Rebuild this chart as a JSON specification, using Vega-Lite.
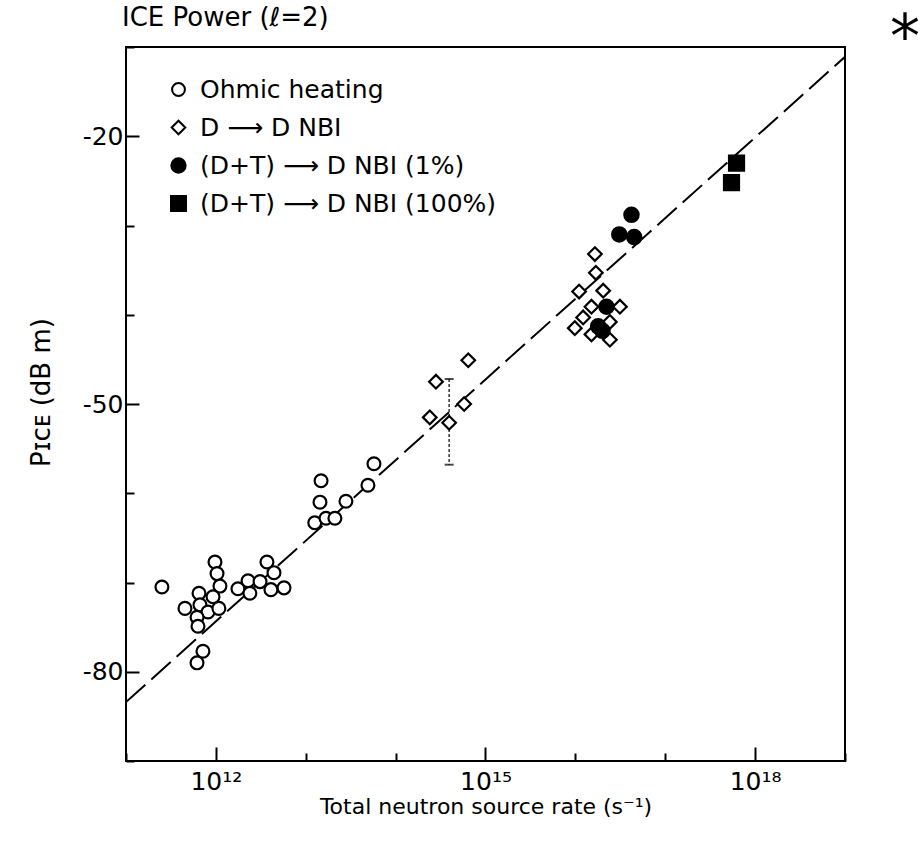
{
  "$schema": "https://vega.github.io/schema/vega-lite/v6.json",
  "autosize": {"type": "none"},
  "width": 719,
  "height": 714,
  "padding": {"left": 126, "top": 47, "right": 78, "bottom": 84},
  "background": "white",
  "title": {"text": "ICE Power (ℓ=2)", "anchor": "start", "frame": "group", "font": "DejaVu Sans", "fontSize": 26, "fontWeight": "normal", "color": "black", "offset": -22, "dx": -4},
  "datasets": {
    "points": [
      {"cat": "Ohmic heating", "rate": 2.51e11, "p": -70.5},
      {"cat": "Ohmic heating", "rate": 9.77e11, "p": -67.7},
      {"cat": "Ohmic heating", "rate": 1.03e12, "p": -69.0},
      {"cat": "Ohmic heating", "rate": 1.11e12, "p": -70.4},
      {"cat": "Ohmic heating", "rate": 6.49e11, "p": -71.2},
      {"cat": "Ohmic heating", "rate": 9.29e11, "p": -71.6},
      {"cat": "Ohmic heating", "rate": 4.53e11, "p": -72.9},
      {"cat": "Ohmic heating", "rate": 6.65e11, "p": -72.5},
      {"cat": "Ohmic heating", "rate": 8.17e11, "p": -73.3},
      {"cat": "Ohmic heating", "rate": 1.08e12, "p": -72.9},
      {"cat": "Ohmic heating", "rate": 6.17e11, "p": -73.9},
      {"cat": "Ohmic heating", "rate": 6.32e11, "p": -74.9},
      {"cat": "Ohmic heating", "rate": 7.18e11, "p": -77.7},
      {"cat": "Ohmic heating", "rate": 6.17e11, "p": -79.0},
      {"cat": "Ohmic heating", "rate": 1.76e12, "p": -70.7},
      {"cat": "Ohmic heating", "rate": 2.28e12, "p": -69.8},
      {"cat": "Ohmic heating", "rate": 2.39e12, "p": -71.2},
      {"cat": "Ohmic heating", "rate": 3.10e12, "p": -69.9},
      {"cat": "Ohmic heating", "rate": 3.70e12, "p": -67.7},
      {"cat": "Ohmic heating", "rate": 4.43e12, "p": -68.9},
      {"cat": "Ohmic heating", "rate": 4.10e12, "p": -70.8},
      {"cat": "Ohmic heating", "rate": 5.73e12, "p": -70.6},
      {"cat": "Ohmic heating", "rate": 1.48e13, "p": -58.6},
      {"cat": "Ohmic heating", "rate": 1.44e13, "p": -61.0},
      {"cat": "Ohmic heating", "rate": 1.26e13, "p": -63.3},
      {"cat": "Ohmic heating", "rate": 1.68e13, "p": -62.8},
      {"cat": "Ohmic heating", "rate": 2.11e13, "p": -62.8},
      {"cat": "Ohmic heating", "rate": 2.80e13, "p": -60.9},
      {"cat": "Ohmic heating", "rate": 4.92e13, "p": -59.1},
      {"cat": "Ohmic heating", "rate": 5.74e13, "p": -56.7},
      {"cat": "D ⟶ D NBI", "rate": 2.81e14, "p": -47.5},
      {"cat": "D ⟶ D NBI", "rate": 6.43e14, "p": -45.1},
      {"cat": "D ⟶ D NBI", "rate": 5.79e14, "p": -50.0},
      {"cat": "D ⟶ D NBI", "rate": 2.40e14, "p": -51.5},
      {"cat": "D ⟶ D NBI", "rate": 3.94e14, "p": -52.1},
      {"cat": "D ⟶ D NBI", "rate": 1.65e16, "p": -33.2},
      {"cat": "D ⟶ D NBI", "rate": 1.69e16, "p": -35.3},
      {"cat": "D ⟶ D NBI", "rate": 1.10e16, "p": -37.4},
      {"cat": "D ⟶ D NBI", "rate": 2.04e16, "p": -37.3},
      {"cat": "D ⟶ D NBI", "rate": 1.51e16, "p": -39.1},
      {"cat": "D ⟶ D NBI", "rate": 3.13e16, "p": -39.1},
      {"cat": "D ⟶ D NBI", "rate": 1.22e16, "p": -40.3},
      {"cat": "D ⟶ D NBI", "rate": 9.86e15, "p": -41.5},
      {"cat": "D ⟶ D NBI", "rate": 1.51e16, "p": -42.2},
      {"cat": "D ⟶ D NBI", "rate": 2.42e16, "p": -40.8},
      {"cat": "D ⟶ D NBI", "rate": 2.42e16, "p": -42.8},
      {"cat": "(D+T) ⟶ D NBI (1%)", "rate": 4.21e16, "p": -28.8},
      {"cat": "(D+T) ⟶ D NBI (1%)", "rate": 3.08e16, "p": -31.0},
      {"cat": "(D+T) ⟶ D NBI (1%)", "rate": 4.51e16, "p": -31.3},
      {"cat": "(D+T) ⟶ D NBI (1%)", "rate": 2.22e16, "p": -39.1},
      {"cat": "(D+T) ⟶ D NBI (1%)", "rate": 1.79e16, "p": -41.3},
      {"cat": "(D+T) ⟶ D NBI (1%)", "rate": 2.0e16, "p": -41.8},
      {"cat": "(D+T) ⟶ D NBI (100%)", "rate": 6.21e17, "p": -23.0},
      {"cat": "(D+T) ⟶ D NBI (100%)", "rate": 5.46e17, "p": -25.2}
    ],
    "fit": [
      {"rate": 1e11, "p": -83.4},
      {"rate": 1e19, "p": -11.1}
    ],
    "err": [
      {"rate": 3.94e14, "p": -47.2, "p2": -56.8}
    ],
    "caps": [
      {"rate": 3.94e14, "p": -47.2},
      {"rate": 3.94e14, "p": -56.8}
    ],
    "note": [
      {"rate": 4.66e19, "p": -9.11, "label": "*"}
    ]
  },
  "encoding": {
    "x": {
      "field": "rate", "type": "quantitative",
      "scale": {"type": "log", "domain": [1e11, 1e19], "nice": false},
      "axis": {
        "title": "Total neutron source rate (s⁻¹)",
        "values": [1e11, 1e12, 1e13, 1e14, 1e15, 1e16, 1e17, 1e18, 1e19],
        "labelExpr": "round(log(datum.value)/LN10) == 12 ? '10¹²' : round(log(datum.value)/LN10) == 15 ? '10¹⁵' : round(log(datum.value)/LN10) == 18 ? '10¹⁸' : ''",
        "tickSize": {"condition": {"test": "round(log(datum.value)/LN10) % 3 == 0", "value": -14}, "value": -8},
        "labelPadding": 22,
        "titlePadding": 2,
        "titleFontSize": 22
      }
    },
    "y": {
      "field": "p", "type": "quantitative",
      "scale": {"domain": [-90, -10], "nice": false, "zero": false},
      "axis": {
        "title": "Pɪᴄᴇ (dB m)",
        "values": [-90, -80, -70, -60, -50, -40, -30, -20, -10],
        "labelExpr": "(datum.value == -20 || datum.value == -50 || datum.value == -80) ? '-' + abs(datum.value) : ''",
        "tickSize": {"condition": {"test": "datum.value == -20 || datum.value == -50 || datum.value == -80", "value": -13}, "value": -8},
        "labelPadding": 16,
        "titlePadding": 28,
        "titleFontSize": 26,
        "titleY": 345
      }
    }
  },
  "layer": [
    {
      "data": {"name": "fit"},
      "mark": {"type": "line", "stroke": "black", "strokeWidth": 2, "strokeDash": [26, 8], "clip": true}
    },
    {
      "data": {"name": "err"},
      "mark": {"type": "rule", "stroke": "#333333", "strokeWidth": 1.5, "strokeDash": [3, 2]},
      "encoding": {"y2": {"field": "p2"}}
    },
    {
      "data": {"name": "caps"},
      "mark": {"type": "tick", "orient": "horizontal", "color": "black", "size": 9, "thickness": 2}
    },
    {
      "data": {"name": "points"},
      "mark": {"type": "point", "filled": true, "strokeWidth": 2.2, "opacity": 1},
      "encoding": {
        "shape": {"field": "cat", "type": "nominal", "title": null,
          "scale": {"domain": ["Ohmic heating", "D ⟶ D NBI", "(D+T) ⟶ D NBI (1%)", "(D+T) ⟶ D NBI (100%)"], "range": ["circle", "diamond", "circle", "square"]}},
        "fill": {"field": "cat", "type": "nominal", "title": null,
          "scale": {"domain": ["Ohmic heating", "D ⟶ D NBI", "(D+T) ⟶ D NBI (1%)", "(D+T) ⟶ D NBI (100%)"], "range": ["white", "white", "black", "black"]}},
        "stroke": {"field": "cat", "type": "nominal", "title": null,
          "scale": {"domain": ["Ohmic heating", "D ⟶ D NBI", "(D+T) ⟶ D NBI (1%)", "(D+T) ⟶ D NBI (100%)"], "range": ["black", "black", "black", "black"]}},
        "size": {"field": "cat", "type": "nominal", "title": null,
          "scale": {"domain": ["Ohmic heating", "D ⟶ D NBI", "(D+T) ⟶ D NBI (1%)", "(D+T) ⟶ D NBI (100%)"], "range": [165, 225, 135, 150]}}
      }
    },
    {
      "data": {"name": "note"},
      "mark": {"type": "text", "fontSize": 60, "font": "DejaVu Sans", "color": "black", "align": "center", "baseline": "middle", "clip": false},
      "encoding": {"text": {"field": "label"}}
    }
  ],
  "config": {
    "font": "DejaVu Sans",
    "view": {"stroke": "black", "strokeWidth": 2},
    "axis": {
      "grid": false,
      "domain": false,
      "tickColor": "black",
      "tickWidth": 2,
      "labelColor": "black",
      "labelFont": "DejaVu Sans",
      "labelFontSize": 25,
      "titleColor": "black",
      "titleFont": "DejaVu Sans",
      "titleFontWeight": "normal"
    },
    "legend": {
      "orient": "none",
      "legendX": 40,
      "legendY": 30,
      "padding": 0,
      "rowPadding": 12,
      "labelFont": "DejaVu Sans",
      "labelFontSize": 25,
      "labelColor": "black",
      "labelOffset": 9,
      "labelLimit": 500,
      "symbolStrokeWidth": 2
    }
  }
}
